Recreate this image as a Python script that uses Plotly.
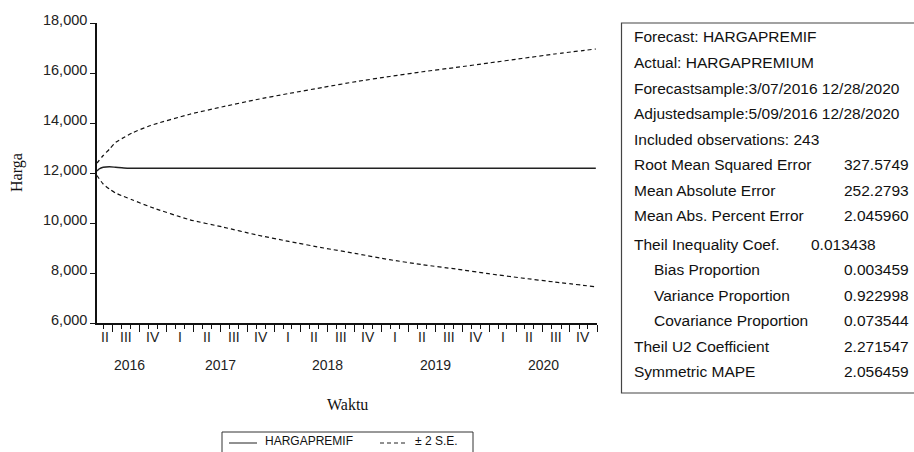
import plotly.graph_objects as go
import pandas as pd

# Weekly forecast of HARGAPREMIF with a ±2 S.E. band (values read at selected weeks)
DATES = [
    "2016-05-09", "2016-05-16", "2016-05-30", "2016-06-20", "2016-07-11",
    "2016-08-08", "2016-09-05", "2016-11-07", "2017-03-20", "2017-07-10",
    "2017-10-30", "2018-02-19", "2018-06-18", "2018-10-08", "2019-01-28",
    "2019-05-20", "2019-09-09", "2019-12-30", "2020-04-20", "2020-08-10",
    "2020-12-28",
]
FORECAST = [
    12080, 12160, 12230, 12250, 12230,
    12200, 12190, 12190, 12190, 12190,
    12190, 12190, 12190, 12190, 12190,
    12190, 12190, 12190, 12190, 12190,
    12190,
]
UPPER = [
    12400, 12500, 12700, 12950, 13220,
    13420, 13600, 13900, 14350, 14650,
    14930, 15180, 15430, 15660, 15860,
    16050, 16220, 16400, 16580, 16760,
    16960,
]
LOWER = [
    11900, 11780, 11560, 11360, 11200,
    11060, 10930, 10640, 10130, 9840,
    9532, 9265, 9000, 8772, 8532,
    8332, 8160, 7972, 7800, 7640,
    7450,
]

Y_TICKS = [6000, 8000, 10000, 12000, 14000, 16000, 18000]
X_START, X_END = "2016-05-09", "2021-01-01"
QUARTER_NAMES = ["I", "II", "III", "IV"]
YEARS = [2016, 2017, 2018, 2019, 2020]

# (label, value, indent level, value column x in px)
STATS_LINES = [
    ("Forecast: HARGAPREMIF", "", 0, None),
    ("Actual: HARGAPREMIUM", "", 0, None),
    ("Forecastsample:3/07/2016 12/28/2020", "", 0, None),
    ("Adjustedsample:5/09/2016 12/28/2020", "", 0, None),
    ("Included observations: 243", "", 0, None),
    ("Root Mean Squared Error", "327.5749", 0, 842),
    ("Mean Absolute Error", "252.2793", 0, 842),
    ("Mean Abs. Percent Error", "2.045960", 0, 842),
    ("Theil Inequality Coef.", "0.013438", 0, 809),
    ("Bias Proportion", "0.003459", 1, 842),
    ("Variance Proportion", "0.922998", 1, 842),
    ("Covariance Proportion", "0.073544", 1, 842),
    ("Theil U2 Coefficient", "2.271547", 0, 842),
    ("Symmetric MAPE", "2.056459", 0, 842),
]

LEGEND_ITEMS = [("HARGAPREMIF", "solid"), ("± 2 S.E.", "dash")]

SANS = "Liberation Sans, Arial, sans-serif"
SERIF = "Liberation Serif, Times New Roman, serif"

# plot box geometry (pixels)
W, H = 914, 452
L, R, T, B = 97, 597, 23, 323
PW, PH = R - L, B - T


def px_x(px):
    return (px - L) / PW


def px_y(py):
    return (B - py) / PH


fig = go.Figure()
fig.add_trace(go.Scatter(
    x=DATES, y=FORECAST, mode="lines", name=LEGEND_ITEMS[0][0],
    line=dict(color="#222222", width=1.4, shape="spline", smoothing=0.6),
))
fig.add_trace(go.Scatter(
    x=DATES, y=UPPER, mode="lines", name=LEGEND_ITEMS[1][0],
    line=dict(color="#111111", width=1.2, dash="4px,3px", shape="spline", smoothing=0.6),
))
fig.add_trace(go.Scatter(
    x=DATES, y=LOWER, mode="lines", name=LEGEND_ITEMS[1][0],
    line=dict(color="#111111", width=1.2, dash="4px,3px", shape="spline", smoothing=0.6),
))

# quarter boundaries inside the axis range
start, end = pd.Timestamp(X_START), pd.Timestamp(X_END)
q_starts = [d for d in pd.date_range("2016-01-01", "2021-01-01", freq="QS") if start <= d <= end]

annotations = []
# quarter labels centred on the visible part of each quarter, years centred on their quarters
year_pos = {}
for q in pd.date_range("2016-04-01", "2020-10-01", freq="QS"):
    a = max(q, start)
    b = min(q + pd.offsets.QuarterBegin(startingMonth=1), end)
    mid = a + (b - a) / 2
    annotations.append(dict(
        x=mid.strftime("%Y-%m-%d %H:%M"), y=px_y(337), xref="x", yref="paper",
        text=QUARTER_NAMES[(q.month - 1) // 3], showarrow=False,
        font=dict(family=SANS, size=14, color="#222222"),
        xanchor="center", yanchor="middle",
    ))
    year_pos.setdefault(q.year, []).append(mid)
for yr in YEARS:
    mids = year_pos[yr]
    c = mids[0] + (mids[-1] - mids[0]) / 2
    annotations.append(dict(
        x=c.strftime("%Y-%m-%d %H:%M"), y=px_y(365), xref="x", yref="paper",
        text=str(yr), showarrow=False,
        font=dict(family=SANS, size=14, color="#222222"),
        xanchor="center", yanchor="middle",
    ))

# axis titles
annotations.append(dict(
    x=px_x(17), y=px_y(173), xref="paper", yref="paper", text="Harga",
    textangle=-90, showarrow=False, xanchor="center", yanchor="middle",
    font=dict(family=SERIF, size=16, color="#111111"),
))
annotations.append(dict(
    x=px_x(347), y=px_y(404), xref="paper", yref="paper", text="Waktu",
    showarrow=False, xanchor="center", yanchor="middle",
    font=dict(family=SERIF, size=16, color="#111111"),
))

# forecast evaluation statistics
stat_font = dict(family=SANS, size=15.5, color="#111111")
for i, (label, value, indent, vx) in enumerate(STATS_LINES):
    ypix = 37 + 25.5 * i + (3 if i >= 8 else 0)
    annotations.append(dict(
        x=px_x(632 + 20 * indent), y=px_y(ypix), xref="paper", yref="paper",
        text=label, showarrow=False, xanchor="left", yanchor="middle", font=stat_font,
    ))
    if value:
        annotations.append(dict(
            x=px_x(vx), y=px_y(ypix), xref="paper", yref="paper",
            text=value, showarrow=False, xanchor="left", yanchor="middle", font=stat_font,
        ))

shapes = [dict(
    type="rect", xref="paper", yref="paper",
    x0=px_x(621.5), x1=px_x(940), y0=px_y(393), y1=px_y(23),
    line=dict(color="#444444", width=1.2), fillcolor="rgba(0,0,0,0)",
)]

# legend box below the axis title
shapes.append(dict(
    type="rect", xref="paper", yref="paper",
    x0=px_x(222), x1=px_x(473), y0=px_y(470), y1=px_y(432),
    line=dict(color="#333333", width=1), fillcolor="white",
))
legend_font = dict(family=SANS, size=12, color="#111111")
for (name, style), (sx0, tx) in zip(LEGEND_ITEMS, [(229, 263), (380, 413)]):
    shapes.append(dict(
        type="line", xref="paper", yref="paper",
        x0=px_x(sx0), x1=px_x(sx0 + 28), y0=px_y(443), y1=px_y(443),
        line=dict(color="#222222", width=1, dash="4px,3px" if style == "dash" else "solid"),
    ))
    annotations.append(dict(
        x=px_x(tx), y=px_y(441), xref="paper", yref="paper", text=name,
        showarrow=False, xanchor="left", yanchor="middle", font=legend_font,
    ))

fig.update_layout(
    width=W, height=H,
    margin=dict(l=L, r=W - R, t=T, b=H - B, autoexpand=False),
    paper_bgcolor="white", plot_bgcolor="white",
    showlegend=False,
    annotations=annotations,
    shapes=shapes,
    xaxis=dict(
        type="date", range=[X_START, X_END],
        showgrid=False, zeroline=False,
        showline=True, linecolor="#111111", linewidth=1.5,
        ticks="outside", tickvals=q_starts, ticklen=7, tickwidth=1.2, tickcolor="#111111",
        showticklabels=False,
        minor=dict(ticks="outside", dtick="M1", tick0="2016-01-01", ticklen=4,
                   tickwidth=1, tickcolor="#111111", showgrid=False),
    ),
    yaxis=dict(
        range=[6000, 18000], tickvals=Y_TICKS, tickformat=",d",
        showgrid=False, zeroline=False,
        showline=True, linecolor="#111111", linewidth=1.5,
        ticks="outside", ticklen=5, tickwidth=1, tickcolor="#111111",
        tickfont=dict(family=SANS, size=14.5, color="#222222"),
        ticklabelshift=-3,
    ),
)

fig.write_html("out.html")
